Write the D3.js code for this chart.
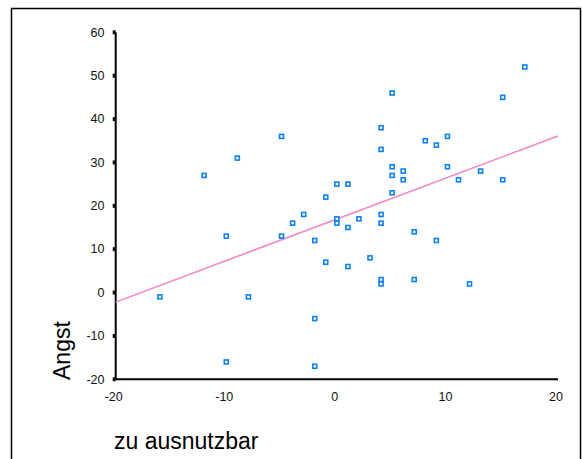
<!DOCTYPE html>
<html>
<head>
<meta charset="utf-8">
<script src="https://cdn.jsdelivr.net/npm/d3@7"></script>
<style>
  html, body { margin: 0; padding: 0; background: #fff; }
  svg { display: block; }
</style>
</head>
<body>
<script>
// Data
const xValues = [-16, -12, -10, -10, -9, -8, -5, -5, -4, -3, -2, -2, -2, -1, -1, 0, 0, 0, 1, 1, 1, 2, 3, 4, 4, 4, 4, 4, 4, 5, 5, 5, 5, 6, 6, 7, 7, 8, 9, 9, 10, 10, 11, 12, 13, 15, 15, 17];
const yValues = [-1, 27, 13, -16, 31, -1, 36, 13, 16, 18, 12, -6, -17, 22, 7, 25, 17, 16, 25, 15, 6, 17, 8, 38, 33, 18, 16, 3, 2, 46, 29, 27, 23, 28, 26, 14, 3, 35, 34, 12, 36, 29, 26, 2, 28, 45, 26, 52];
const xTicks = [-20, -10, 0, 10, 20];
const yTicks = [-20, -10, 0, 10, 20, 30, 40, 50, 60];
const fitLine = [[-20, -2.2], [20, 36.1]];
const xTitle = "zu ausnutzbar";
const yTitle = "Angst";

const W = 582, H = 459;
const svg = d3.select("body").append("svg").attr("width", W).attr("height", H);

// outer frame
svg.append("rect").attr("x", 11.5).attr("y", 8.5).attr("width", 569).attr("height", 470)
  .attr("fill", "none").attr("stroke", "#000").attr("stroke-width", 1.5);

const x = d3.scaleLinear().domain([-20, 20]).range([115.7, 558]);
const y = d3.scaleLinear().domain([-20, 60]).range([379.3, 32.3]);

const font = "'Liberation Sans', Arial, sans-serif";

// y axis line
svg.append("line").attr("x1", x(-20)).attr("x2", x(-20)).attr("y1", y(60)).attr("y2", y(-20))
  .attr("stroke", "#000").attr("stroke-width", 2);
// x axis line
svg.append("line").attr("x1", x(-20)).attr("x2", x(20)).attr("y1", y(-20)).attr("y2", y(-20))
  .attr("stroke", "#000").attr("stroke-width", 2);

// y tick marks (small squares) and labels
svg.selectAll(".ytick").data(yTicks).enter().append("rect")
  .attr("x", x(-20) - 3).attr("y", d => y(d) - 2).attr("width", 3).attr("height", 4)
  .attr("fill", "#111");
svg.selectAll(".ylab").data(yTicks).enter().append("text")
  .attr("x", 104.5).attr("y", d => y(d) + 4.3)
  .attr("text-anchor", "end").attr("font-family", font).attr("font-size", 12.5)
  .attr("fill", "#111").text(d => d);

// x tick labels
svg.selectAll(".xlab").data(xTicks).enter().append("text")
  .attr("x", d => x(d) - 2).attr("y", 401)
  .attr("text-anchor", "middle").attr("font-family", font).attr("font-size", 12.5)
  .attr("fill", "#111").text(d => d);

// regression line
svg.append("line")
  .attr("x1", x(fitLine[0][0])).attr("y1", y(fitLine[0][1]))
  .attr("x2", x(fitLine[1][0])).attr("y2", y(fitLine[1][1]))
  .attr("stroke", "#f783c4").attr("stroke-width", 1.5);

// points
const pts = xValues.map((v, i) => [v, yValues[i]]);
svg.selectAll(".pt").data(pts).enter().append("rect")
  .attr("x", d => x(d[0]) - 2).attr("y", d => y(d[1]) - 2)
  .attr("width", 4).attr("height", 4)
  .attr("fill", "#fff").attr("stroke", "#0a80ff").attr("stroke-width", 1.6);

// axis titles
svg.append("text").attr("x", 114).attr("y", 449)
  .attr("font-family", font).attr("font-size", 23).attr("fill", "#000").text(xTitle);
svg.append("text").attr("transform", `translate(70,380) rotate(-90)`)
  .attr("font-family", font).attr("font-size", 23).attr("fill", "#000").text(yTitle);
</script>
</body>
</html>
